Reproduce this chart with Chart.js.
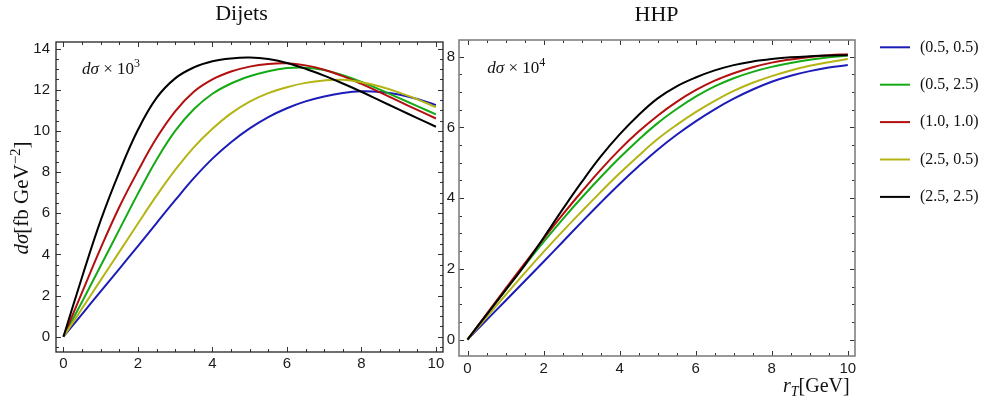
<!DOCTYPE html>
<html>
<head>
<meta charset="utf-8">
<script src="https://cdn.jsdelivr.net/npm/chart.js@4.4.1/dist/chart.umd.min.js"></script>
<style>
  html, body { margin: 0; padding: 0; background: #fff; }
  #wrap { position: relative; width: 986px; height: 405px; overflow: hidden; }
  #dijets { position: absolute; left: 0; top: 0; }
  #hhp { position: absolute; left: 444px; top: 0; }
</style>
</head>
<body>
<div id="wrap">
  <canvas id="dijets" width="446" height="405"></canvas>
  <canvas id="hhp" width="542" height="405"></canvas>
</div>
<script>
/* ---------- Data ---------- */

const rT = [0, 0.5, 1, 1.5, 2, 2.5, 3, 3.5, 4, 4.5, 5, 5.5, 6, 6.5, 7, 7.5, 8, 8.5, 9, 9.5, 10];

const seriesLabels = ["(0.5, 0.5)", "(0.5, 2.5)", "(1.0, 1.0)", "(2.5, 0.5)", "(2.5, 2.5)"];
const seriesColors = ["#1c1cb8", "#14aa14", "#b40f0f", "#b4b414", "#000000"];

const xTicks = [0, 2, 4, 6, 8, 10];
const dijetsYTicks = [0, 2, 4, 6, 8, 10, 12, 14];
const hhpYTicks = [0, 2, 4, 6, 8];

// Dijets, dσ × 10^3
const dijets_05_05 = [0, 1.1, 2.2, 3.3, 4.4, 5.52, 6.63, 7.7, 8.65, 9.45, 10.12, 10.67, 11.1, 11.43, 11.67, 11.84, 11.92, 11.89, 11.77, 11.55, 11.25];
const dijets_05_25 = [0, 1.7, 3.45, 5.2, 6.95, 8.6, 10.0, 11.05, 11.8, 12.3, 12.65, 12.9, 13.05, 13.07, 12.95, 12.7, 12.38, 12.0, 11.6, 11.2, 10.8];
const dijets_10_10 = [0, 2.15, 4.3, 6.3, 8.05, 9.65, 10.95, 11.9, 12.5, 12.88, 13.12, 13.25, 13.28, 13.18, 12.97, 12.66, 12.28, 11.87, 11.44, 11.02, 10.6];
const dijets_25_05 = [0, 1.37, 2.75, 4.12, 5.5, 6.85, 8.1, 9.2, 10.1, 10.85, 11.42, 11.83, 12.12, 12.33, 12.45, 12.48, 12.36, 12.15, 11.87, 11.53, 11.15];
const dijets_25_25 = [0, 2.9, 5.65, 8.0, 10.05, 11.6, 12.55, 13.08, 13.38, 13.52, 13.56, 13.49, 13.3, 13.02, 12.68, 12.3, 11.9, 11.47, 11.04, 10.62, 10.2];

// HHP, dσ × 10^4
const hhp_05_05 = [0, 0.55, 1.1, 1.65, 2.2, 2.76, 3.32, 3.87, 4.4, 4.9, 5.37, 5.79, 6.17, 6.51, 6.81, 7.07, 7.29, 7.46, 7.59, 7.69, 7.76];
const hhp_05_25 = [0, 0.7, 1.4, 2.09, 2.76, 3.4, 4.01, 4.59, 5.14, 5.65, 6.12, 6.52, 6.87, 7.16, 7.39, 7.57, 7.71, 7.82, 7.91, 7.98, 8.03];
const hhp_10_10 = [0, 0.72, 1.44, 2.15, 2.85, 3.53, 4.18, 4.8, 5.37, 5.88, 6.33, 6.72, 7.05, 7.32, 7.53, 7.7, 7.83, 7.92, 7.99, 8.04, 8.07];
const hhp_25_05 = [0, 0.63, 1.26, 1.88, 2.48, 3.06, 3.62, 4.17, 4.7, 5.2, 5.67, 6.07, 6.43, 6.75, 7.03, 7.26, 7.45, 7.61, 7.74, 7.84, 7.93];
const hhp_25_25 = [0, 0.7, 1.4, 2.1, 2.88, 3.68, 4.45, 5.17, 5.8, 6.35, 6.82, 7.16, 7.41, 7.61, 7.76, 7.86, 7.93, 7.98, 8.01, 8.03, 8.04];

/* ---------- Style ---------- */

const SERIF = '"Liberation Serif", "DejaVu Serif", serif';
const SANS = '"Liberation Sans", Arial, sans-serif';

/* ---------- Helpers ---------- */

function makeDatasets(list) {
    return list.map((ys, i) => ({
        label: seriesLabels[i],
        data: ys.map((y, k) => ({ x: rT[k], y })),
        borderColor: seriesColors[i],
        borderWidth: 2,
        pointRadius: 0,
        tension: 0.4,
        order: list.length - i
    }));
}

function runsWidth(ctx, runs) {
    let w = 0;
    for (const r of runs) { ctx.font = r.f; w += ctx.measureText(r.t).width; }
    return w;
}

function drawRuns(ctx, x, y, runs) {
    let cx = x;
    for (const r of runs) {
        ctx.font = r.f;
        ctx.fillText(r.t, cx, y + (r.dy || 0));
        cx += ctx.measureText(r.t).width;
    }
}

// Mathematica-like frame with inward ticks on all four sides
function framePlugin(frameColor, frameWidth) {
    return {
        id: "frame",
        afterDatasetsDraw(chart) {
            const { ctx, chartArea: a, scales: { x, y } } = chart;
            ctx.save();
            ctx.strokeStyle = "#333";
            ctx.lineWidth = 1;
            ctx.beginPath();
            for (let v = Math.ceil(x.min / 0.5) * 0.5; v <= x.max + 1e-9; v += 0.5) {
                const len = Math.abs(v / 2 - Math.round(v / 2)) < 1e-6 ? 5 : 3;
                const px = Math.round(x.getPixelForValue(v)) + 0.5;
                ctx.moveTo(px, a.bottom); ctx.lineTo(px, a.bottom - len);
                ctx.moveTo(px, a.top); ctx.lineTo(px, a.top + len);
            }
            for (let v = Math.ceil(y.min / 0.5) * 0.5; v <= y.max + 1e-9; v += 0.5) {
                const len = Math.abs(v / 2 - Math.round(v / 2)) < 1e-6 ? 5 : 3;
                const py = Math.round(y.getPixelForValue(v)) + 0.5;
                ctx.moveTo(a.left, py); ctx.lineTo(a.left + len, py);
                ctx.moveTo(a.right, py); ctx.lineTo(a.right - len, py);
            }
            ctx.stroke();
            ctx.strokeStyle = frameColor;
            ctx.lineWidth = frameWidth;
            ctx.strokeRect(a.left, a.top, a.right - a.left, a.bottom - a.top);
            ctx.restore();
        }
    };
}

function makeScales(xRange, yRange, yTicks, xHeight, yWidth, yPad, xPad) {
    const tickFont = { family: SANS, size: 15 };
    return {
        x: {
            type: "linear", min: xRange[0], max: xRange[1],
            afterBuildTicks: s => { s.ticks = xTicks.map(v => ({ value: v })); },
            afterFit: s => { s.height = xHeight; s.paddingLeft = 0; s.paddingRight = 0; },
            ticks: { font: tickFont, color: "#1a1a1a", padding: xPad, maxRotation: 0, autoSkip: false },
            grid: { display: false, drawTicks: false },
            border: { display: false }
        },
        y: {
            type: "linear", min: yRange[0], max: yRange[1],
            afterBuildTicks: s => { s.ticks = yTicks.map(v => ({ value: v })); },
            afterFit: s => { s.width = yWidth; s.paddingTop = 0; s.paddingBottom = 0; },
            ticks: { font: tickFont, color: "#1a1a1a", padding: yPad, autoSkip: false },
            grid: { display: false, drawTicks: false },
            border: { display: false }
        }
    };
}

/* ---------- Dijets ---------- */

const dijetsText = {
    id: "dijetsText",
    afterDraw(chart) {
        const ctx = chart.ctx;
        ctx.save();
        ctx.fillStyle = "#111";
        ctx.textBaseline = "alphabetic";
        ctx.textAlign = "left";

        ctx.font = `22px ${SERIF}`;
        const tw = ctx.measureText("Dijets").width;
        ctx.fillText("Dijets", 241.5 - tw / 2, 20);

        drawRuns(ctx, 82, 74, [
            { t: "dσ", f: `italic 17px ${SERIF}` },
            { t: " × 10", f: `17px ${SERIF}` },
            { t: "3", f: `12px ${SERIF}`, dy: -7 }
        ]);

        const yTitle = [
            { t: "dσ", f: `italic 21px ${SERIF}` },
            { t: "[fb GeV", f: `21px ${SERIF}` },
            { t: "−2", f: `15px ${SERIF}`, dy: -8 },
            { t: "]", f: `21px ${SERIF}` }
        ];
        const w = runsWidth(ctx, yTitle);
        ctx.translate(28, 198);
        ctx.rotate(-Math.PI / 2);
        drawRuns(ctx, -w / 2, 0, yTitle);
        ctx.restore();
    }
};

new Chart(document.getElementById("dijets"), {
    type: "line",
    data: { datasets: makeDatasets([dijets_05_05, dijets_05_25, dijets_10_10, dijets_25_05, dijets_25_25]) },
    options: {
        responsive: false,
        animation: false,
        layout: { padding: { top: 42, right: 3, bottom: 0, left: 0 } },
        plugins: { legend: { display: false }, tooltip: { enabled: false } },
        scales: makeScales([-0.2, 10.19], [-0.743, 14.316], dijetsYTicks, 53, 56, 6, 3)
    },
    plugins: [framePlugin("#222", 1.3), dijetsText]
});

/* ---------- HHP ---------- */

const hhpText = {
    id: "hhpText",
    afterDraw(chart) {
        const ctx = chart.ctx;
        ctx.save();
        ctx.fillStyle = "#111";
        ctx.textAlign = "left";
        ctx.textBaseline = "alphabetic";

        ctx.font = `22px ${SERIF}`;
        const tw = ctx.measureText("HHP").width;
        ctx.fillText("HHP", 212.5 - tw / 2, 20.5);

        drawRuns(ctx, 43.3, 72.5, [
            { t: "dσ", f: `italic 17px ${SERIF}` },
            { t: " × 10", f: `17px ${SERIF}` },
            { t: "4", f: `12px ${SERIF}`, dy: -7 }
        ]);

        drawRuns(ctx, 339, 392, [
            { t: "r", f: `italic 20px ${SERIF}` },
            { t: "T", f: `italic 14px ${SERIF}`, dy: 4 },
            { t: "[GeV]", f: `20px ${SERIF}` }
        ]);

        // legend
        ctx.textBaseline = "middle";
        ctx.font = `16px ${SERIF}`;
        seriesLabels.forEach((lab, i) => {
            const yy = 47.3 + i * 37.4;
            ctx.strokeStyle = seriesColors[i];
            ctx.lineWidth = 2;
            ctx.beginPath();
            ctx.moveTo(436, yy); ctx.lineTo(466, yy);
            ctx.stroke();
            ctx.fillStyle = "#111";
            ctx.fillText(lab, 476, yy);
        });
        ctx.restore();
    }
};

new Chart(document.getElementById("hhp"), {
    type: "line",
    data: { datasets: makeDatasets([hhp_05_05, hhp_05_25, hhp_10_10, hhp_25_05, hhp_25_25]) },
    options: {
        responsive: false,
        animation: false,
        layout: { padding: { top: 40, right: 131, bottom: 0, left: 0 } },
        plugins: { legend: { display: false }, tooltip: { enabled: false } },
        scales: makeScales([-0.224, 10.19], [-0.464, 8.47], hhpYTicks, 49, 15, 4, 4)
    },
    plugins: [framePlugin("#808080", 1.6), hhpText]
});
</script>
</body>
</html>
